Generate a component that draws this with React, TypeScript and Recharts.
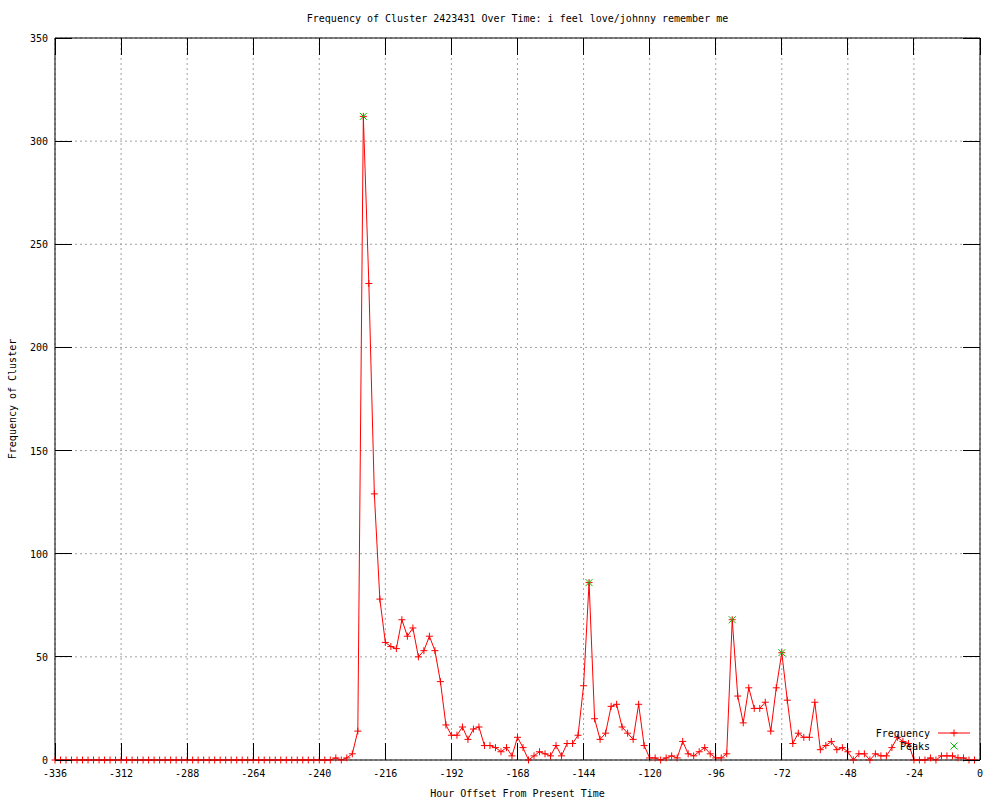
import { CartesianGrid, ComposedChart, Line, XAxis, YAxis } from "recharts";

const FONT = "'DejaVu Sans Mono', 'Liberation Mono', monospace";

// hourly offsets, one sample every two hours
const hours = Array.from({ length: 168 }, (_, i) => -336 + i * 2);

const frequency = [
  // -336 .. -242
  0, 0, 0, 0, 0, 0, 0, 0, 0, 0, 0, 0, 0, 0, 0, 0,
  0, 0, 0, 0, 0, 0, 0, 0, 0, 0, 0, 0, 0, 0, 0, 0,
  0, 0, 0, 0, 0, 0, 0, 0, 0, 0, 0, 0, 0, 0, 0, 0,
  // -240 .. -2
  0, 0, 0, 1, 0, 1, 3, 14, 312, 231,
  129, 78, 57, 55, 54, 68, 60, 64, 50, 53,
  60, 53, 38, 17, 12, 12, 16, 10, 15, 16,
  7, 7, 6, 4, 6, 2, 11, 6, 0, 2,
  4, 3, 2, 7, 2, 8, 8, 12, 36, 86,
  20, 10, 13, 26, 27, 16, 13, 10, 27, 7,
  1, 1, 0, 1, 2, 1, 9, 3, 2, 4,
  6, 3, 1, 1, 3, 68, 31, 18, 35, 25,
  25, 28, 14, 35, 52, 29, 8, 13, 11, 11,
  28, 5, 7, 9, 5, 6, 4, 0, 3, 3,
  0, 3, 2, 2, 6, 11, 9, 8, 0, 0,
  0, 1, 0, 2, 2, 2, 1, 1, 0, 0,
];

const peakHours = [-224, -142, -90, -72];
const peakValues = [312, 86, 68, 52];

const xTicks = [-336, -312, -288, -264, -240, -216, -192, -168, -144, -120, -96, -72, -48, -24, 0];
const yTicks = [0, 50, 100, 150, 200, 250, 300, 350];

const data = hours.map((hour, i) => {
  const p = peakHours.indexOf(hour);
  return { hour, freq: frequency[i], peak: p >= 0 ? peakValues[p] : null };
});

const TICK = 17;

const BottomTick = ({ x, y, payload }: any) => (
  <g>
    <line x1={x} y1={y} x2={x} y2={y - TICK} stroke="#000" shapeRendering="crispEdges" />
    <text x={x} y={y + 17} textAnchor="middle" fontSize={10} fontFamily={FONT} fill="#000">
      {payload.value}
    </text>
  </g>
);

const TopTick = ({ x, y }: any) => (
  <line x1={x} y1={y} x2={x} y2={y + TICK} stroke="#000" shapeRendering="crispEdges" />
);

const LeftTick = ({ x, y, payload }: any) => (
  <g>
    <line x1={x} y1={y} x2={x + TICK} y2={y} stroke="#000" shapeRendering="crispEdges" />
    <text x={x - 7} y={y + 4} textAnchor="end" fontSize={10} fontFamily={FONT} fill="#000">
      {payload.value}
    </text>
  </g>
);

const RightTick = ({ x, y }: any) => (
  <line x1={x} y1={y} x2={x - TICK} y2={y} stroke="#000" shapeRendering="crispEdges" />
);

const PlusDot = ({ cx, cy, index }: any) => (
  <path
    key={`f${index}`}
    d={`M${cx - 3.5},${cy}h7M${cx},${cy - 3.5}v7`}
    stroke="#ff0000"
    strokeWidth={1}
    fill="none"
  />
);

const CrossDot = ({ cx, cy, index, payload }: any) => {
  if (payload.peak == null) return <g key={`p${index}`} />;
  return (
    <path
      key={`p${index}`}
      d={`M${cx - 3.5},${cy - 3.5}l7,7M${cx - 3.5},${cy + 3.5}l7,-7`}
      stroke="#00c000"
      strokeWidth={1}
      fill="none"
    />
  );
};

export default function App() {
  return (
    <div style={{ position: "absolute", left: 0, top: 0, width: 1000, height: 800, background: "#fff" }}>
      <ComposedChart
        width={1000}
        height={800}
        data={data}
        margin={{ top: 37, right: 19, bottom: 0, left: 0 }}
      >
        <CartesianGrid stroke="#a0a0a0" strokeDasharray="2 3" horizontalValues={yTicks} verticalValues={xTicks} />
        <XAxis
          dataKey="hour"
          type="number"
          domain={[-336, 0]}
          ticks={xTicks}
          interval={0}
          height={40}
          tickSize={0}
          tickMargin={0}
          tickLine={false}
          axisLine={{ stroke: "#000" }}
          tick={BottomTick}
        />
        <XAxis
          xAxisId="top"
          dataKey="hour"
          orientation="top"
          type="number"
          domain={[-336, 0]}
          ticks={xTicks}
          interval={0}
          height={1}
          tickSize={0}
          tickMargin={0}
          tickLine={false}
          axisLine={{ stroke: "#000" }}
          tick={TopTick}
        />
        <YAxis
          type="number"
          domain={[0, 350]}
          ticks={yTicks}
          interval={0}
          width={55}
          tickSize={0}
          tickMargin={0}
          tickLine={false}
          axisLine={{ stroke: "#000" }}
          tick={LeftTick}
        />
        <YAxis
          yAxisId="right"
          orientation="right"
          type="number"
          domain={[0, 350]}
          ticks={yTicks}
          interval={0}
          width={1}
          tickSize={0}
          tickMargin={0}
          tickLine={false}
          axisLine={{ stroke: "#000" }}
          tick={RightTick}
        />
        <Line
          dataKey="freq"
          type="linear"
          stroke="#ff0000"
          strokeWidth={1}
          dot={PlusDot}
          activeDot={false}
          isAnimationActive={false}
        />
        <Line
          xAxisId="top"
          yAxisId="right"
          dataKey="peak"
          type="linear"
          stroke="none"
          dot={CrossDot}
          activeDot={false}
          isAnimationActive={false}
        />
      </ComposedChart>
      <svg
        width={1000}
        height={800}
        style={{ position: "absolute", left: 0, top: 0, pointerEvents: "none" }}
        fontFamily={FONT}
        fontSize={10}
      >
        <text x={517.5} y={22} textAnchor="middle" fill="#000">
          Frequency of Cluster 2423431 Over Time: i feel love/johnny remember me
        </text>
        <text x={517.5} y={797} textAnchor="middle" fill="#000">
          Hour Offset From Present Time
        </text>
        <text x={13} y={399} textAnchor="middle" dominantBaseline="middle" transform="rotate(-90 13 399)" fill="#000">
          Frequency of Cluster
        </text>
        <text x={930} y={737} textAnchor="end" fill="#000">Frequency</text>
        <line x1={938} y1={733} x2={970} y2={733} stroke="#ff0000" />
        <path d="M950.5,733h7M954,729.5v7" stroke="#ff0000" fill="none" />
        <text x={930} y={750} textAnchor="end" fill="#000">Peaks</text>
        <path d="M950.5,742.5l7,7M950.5,749.5l7,-7" stroke="#00c000" fill="none" />
      </svg>
    </div>
  );
}
